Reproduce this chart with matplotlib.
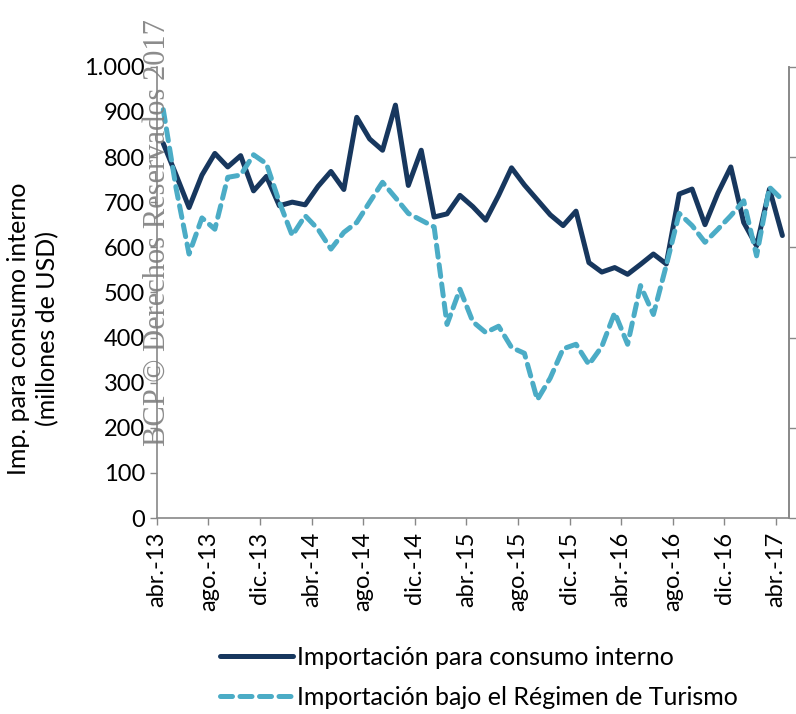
import numpy as np
import matplotlib
matplotlib.use("Agg")
import matplotlib.pyplot as plt

# valores mensuales abr-13 .. abr-17 (millones de USD)
consumo = [830, 760, 688, 760, 808, 778, 803, 725, 757, 692,
           700, 694, 735, 768, 728, 888, 840, 815, 915, 737,
           815, 667, 674, 715, 690, 660, 715, 776, 738, 705,
           672, 648, 680, 566, 545, 555, 540, 562, 585, 563,
           718, 729, 650, 720, 778, 655, 603, 729, 626]
turismo = [905, 730, 585, 665, 640, 755, 760, 805, 785, 700,
           626, 670, 640, 596, 633, 655, 700, 744, 710, 675,
           660, 645, 429, 507, 435, 411, 425, 378, 365, 262,
           310, 375, 385, 340, 380, 455, 385, 515, 451, 560,
           675, 648, 611, 640, 670, 703, 581, 733, 705]
etiquetas = ["abr.-13", "ago.-13", "dic.-13", "abr.-14", "ago.-14", "dic.-14",
             "abr.-15", "ago.-15", "dic.-15", "abr.-16", "ago.-16", "dic.-16",
             "abr.-17"]

plt.rcParams['font.family'] = ['Lato', 'DejaVu Sans']

fig = plt.figure(figsize=(7.96, 7.14), dpi=100)
ax = fig.add_axes([0.197, 0.2745, 0.794, 0.632])

x = np.arange(len(consumo)) + 0.5
ax.plot(x, consumo, color='#17375E', lw=3.6, solid_joinstyle='round',
        solid_capstyle='round', label='Importación para consumo interno')
ax.plot(x, turismo, color='#4BACC6', lw=3.6, dashes=(2.4, 1.5),
        dash_capstyle='round', dash_joinstyle='round',
        label='Importación bajo el Régimen de Turismo')

ax.set_xlim(0, len(consumo))
ax.set_ylim(0, 1000)
ax.set_yticks(range(0, 1001, 100))
ax.set_yticklabels(['1.000' if v == 1000 else str(v) for v in range(0, 1001, 100)])
ax.set_xticks(range(0, len(consumo), 4))
ax.set_xticklabels(etiquetas, rotation=90)
ax.tick_params(axis='both', labelsize=17, color='#888888', length=5, width=1)
ax.tick_params(axis='x', pad=5)

ax.spines['top'].set_visible(False)
for s in ['left', 'bottom', 'right']:
    ax.spines[s].set_color('#888888')
    ax.spines[s].set_linewidth(1.2)

ax2 = ax.twinx()
ax2.set_ylim(0, 5)
ax2.set_yticks(range(6))
ax2.set_yticklabels([])
ax2.tick_params(axis='y', color='#888888', length=5, width=1)
for s in ['top', 'left', 'bottom']:
    ax2.spines[s].set_visible(False)
ax2.spines['right'].set_color('#888888')
ax2.spines['right'].set_linewidth(1.2)

ax.set_ylabel('Imp. para consumo interno\n(millones de USD)', fontsize=18,
              linespacing=1.3)
ax.yaxis.set_label_coords(-0.155, 0.42)

ax.legend(loc='upper left', bbox_to_anchor=(0.065, -0.233), frameon=False,
          fontsize=18, handlelength=2.9, handletextpad=0.15, labelspacing=0.7)

fig.text(0.197, 0.375, 'BCP © Derechos Reservados 2017', rotation=90,
         family='Liberation Serif', fontsize=22, color='#7F7F7F', alpha=0.9,
         ha='center', va='bottom')

fig.savefig('out.png', dpi=100)
